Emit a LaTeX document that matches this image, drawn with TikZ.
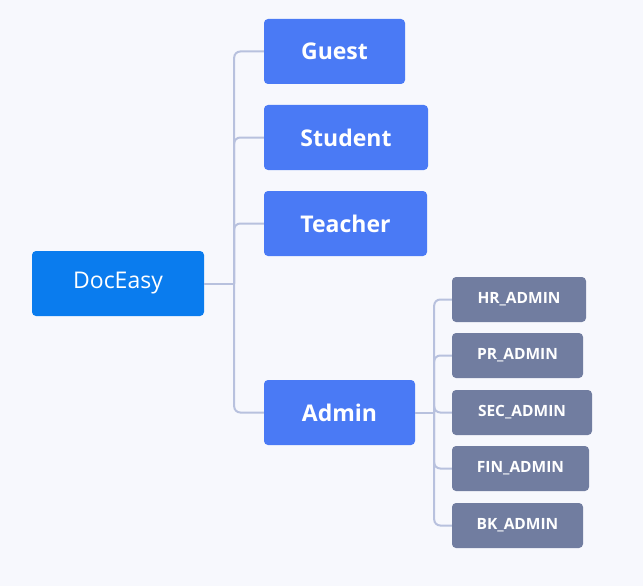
\documentclass[tikz,border=0pt]{standalone}
\usepackage{fontspec}
\setmainfont{Open Sans}
\definecolor{bgcol}{HTML}{F7F8FD}
\definecolor{rootblue}{HTML}{0A7CEE}
\definecolor{roleblue}{HTML}{4A7AF5}
\definecolor{admingray}{HTML}{717DA0}
\definecolor{linkcol}{HTML}{B8C1DE}
\tikzset{
  rootbox/.style={fill=rootblue, text=white, rounded corners=4pt, minimum height=65pt,
    inner sep=0pt, font=\fontsize{23}{28}\selectfont},
  rolebox/.style={fill=roleblue, text=white, rounded corners=4pt, minimum height=65pt,
    inner sep=0pt, font=\fontsize{23}{28}\selectfont\bfseries},
  subbox/.style={fill=admingray, text=white, rounded corners=4pt, minimum height=45pt,
    inner sep=0pt, font=\fontsize{15.5}{20}\selectfont\bfseries},
  link/.style={draw=linkcol, line width=2pt},
  branch/.style={link, rounded corners=6pt}
}
\begin{document}
\begin{tikzpicture}[x=1pt, y=-1pt]

% fond
\fill[bgcol] (0,0) rectangle (643,586);
\useasboundingbox (0,0) rectangle (643,586);

% racine
\node[rootbox, minimum width=172pt] (doceasy) at (118,283.5) {DocEasy};

% roles
\node[rolebox, minimum width=141pt] (guest) at (334.5,51.5) {Guest};
\node[rolebox, minimum width=164pt] (student) at (346,137.5) {Student};
\node[rolebox, minimum width=163pt] (teacher) at (345.5,223.5) {Teacher};
\node[rolebox, minimum width=151pt] (admin) at (339.5,412.5) {Admin};

% admins
\node[subbox, minimum width=134pt] (hr) at (519,299.5) {HR\_ADMIN};
\node[subbox, minimum width=131pt] (pr) at (517.5,355.5) {PR\_ADMIN};
\node[subbox, minimum width=140pt] (sec) at (522,412.5) {SEC\_ADMIN};
\node[subbox, minimum width=137pt] (fin) at (520.5,468.5) {FIN\_ADMIN};
\node[subbox, minimum width=131pt] (bk) at (517.5,525.5) {BK\_ADMIN};

% liens
\coordinate (trunk) at ([xshift=30pt]doceasy.east);
\draw[link] (doceasy.east) -- (trunk);
\foreach \n in {guest,student,teacher,admin} {
    \draw[branch] (trunk) |- (\n.west);
}
\coordinate (subtrunk) at ([xshift=19pt]admin.east);
\draw[link] (admin.east) -- (subtrunk);
\foreach \n in {hr,pr,sec,fin,bk} {
    \draw[branch] (subtrunk) |- (\n.west);
}

\end{tikzpicture}
\end{document}
